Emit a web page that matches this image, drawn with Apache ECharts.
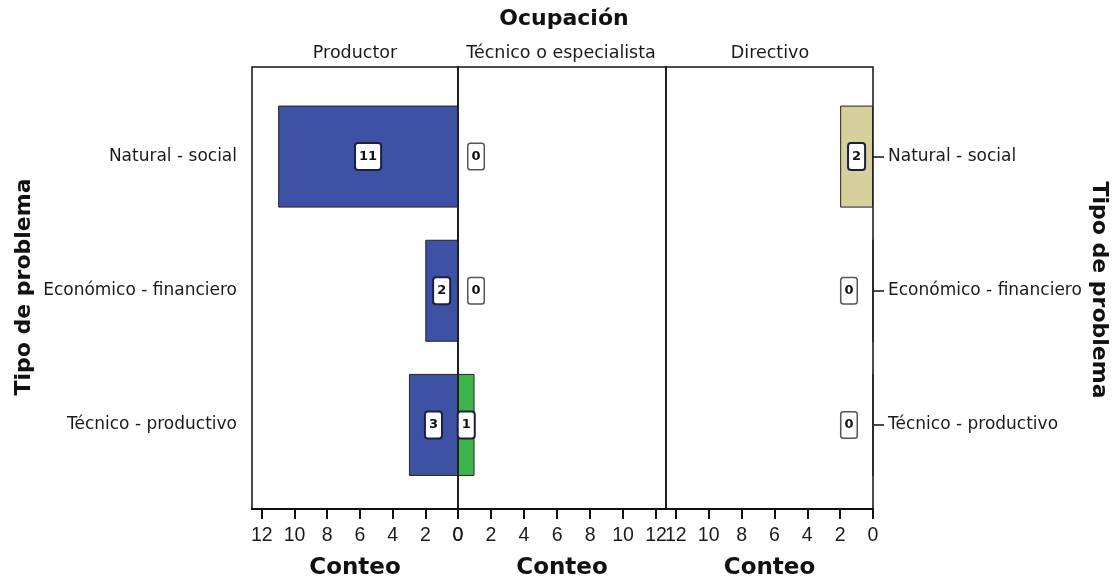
<!DOCTYPE html>
<html><head><meta charset="utf-8">
<script src="https://cdn.jsdelivr.net/npm/echarts@6/dist/echarts.min.js"></script>
<style>html,body{margin:0;padding:0;background:#fff}#c{width:1117px;height:585px}</style>
</head><body><div id="c"></div>
<script>
const categories = ['Natural - social', 'Económico - financiero', 'Técnico - productivo'];
const panelNames = ['Productor', 'Técnico o especialista', 'Directivo'];
const productor = [11, 2, 3];
const tecnico = [0, 0, 1];
const directivo = [2, 0, 0];
const tickValues = [0, 2, 4, 6, 8, 10, 12];
const axisMax = 12.6;

const FONT = '"DejaVu Sans", "Liberation Sans", Arial, sans-serif';
const FONT2 = '"Liberation Sans", Arial, sans-serif';
const frames = [{left: 252, width: 206}, {left: 458, width: 208}, {left: 666, width: 207}];
const frameTop = 67, frameHeight = 447;
const innerTop = 89.5, innerHeight = 402.5;
const inverse = [true, false, true];
const colors = ['#3d52a5', '#3db54a', '#d6d09c'];
const values = [productor, tecnico, directivo];

const grid = [];
const xAxis = [];
const yAxis = [];
frames.forEach((f, i) => {
  grid.push({left: f.left, width: f.width, top: frameTop, height: frameHeight, show: true,
    borderColor: '#111', borderWidth: 1.5, backgroundColor: 'transparent'});
  xAxis.push({gridIndex: i, type: 'value', min: 0, max: axisMax, inverse: inverse[i],
    axisLine: {show: true, lineStyle: {color: '#111', width: 2}},
    axisTick: {show: true, length: 10, lineStyle: {color: '#111', width: 2}, customValues: tickValues},
    axisLabel: {customValues: tickValues, margin: 17, fontSize: 19.5, color: '#1a1a1a', fontFamily: FONT2},
    splitLine: {show: false},
    name: 'Conteo', nameLocation: 'middle', nameGap: 48,
    nameTextStyle: {fontSize: 23, fontWeight: 'bold', color: '#111', fontFamily: FONT}});
  yAxis.push({gridIndex: i, type: 'value', show: false});
});
frames.forEach((f, i) => {
  grid.push({left: f.left, width: f.width, top: innerTop, height: innerHeight});
  xAxis.push({gridIndex: 3 + i, type: 'value', min: 0, max: axisMax, inverse: inverse[i], show: false});
  const showCat = i !== 1;
  yAxis.push({gridIndex: 3 + i, type: 'category', data: categories, inverse: true,
    position: i === 2 ? 'right' : 'left', show: showCat,
    axisLine: {show: false},
    axisTick: {show: true, alignWithLabel: true, length: 11, lineStyle: {color: '#111', width: 1.5}},
    axisLabel: {margin: 15, fontSize: 17, color: '#1a1a1a', fontFamily: FONT}});
});

const baseLabel = {show: true, position: 'inside', fontSize: 13, fontWeight: 'bold', color: '#111',
  fontFamily: FONT, backgroundColor: '#fff', borderColor: '#1c2040', borderWidth: 2,
  borderRadius: 2, padding: [5, 3], lineHeight: 15};

const series = values.map((arr, i) => ({
  type: 'bar', xAxisIndex: 3 + i, yAxisIndex: 3 + i, barWidth: 102,
  itemStyle: {color: colors[i], borderColor: '#222', borderWidth: 1},
  label: baseLabel,
  data: arr.map(v => v === 0 ? {value: v, label: {position: i === 2 ? 'left' : 'right',
    distance: i === 2 ? 16 : 10, borderColor: '#555', borderWidth: 1.5}} : v)
}));

const chart = echarts.init(document.getElementById('c'));
chart.setOption({
  animation: false,
  backgroundColor: '#fff',
  grid, xAxis, yAxis, series,
  graphic: [
    {type: 'text', x: 564, y: 19, style: {text: 'Ocupación', font: 'bold 22px ' + FONT, fill: '#111', textAlign: 'center', textVerticalAlign: 'middle'}},
    {type: 'text', x: 355, y: 53, style: {text: panelNames[0], font: '17.5px ' + FONT, fill: '#1a1a1a', textAlign: 'center', textVerticalAlign: 'middle'}},
    {type: 'text', x: 561, y: 53, style: {text: panelNames[1], font: '17.5px ' + FONT, fill: '#1a1a1a', textAlign: 'center', textVerticalAlign: 'middle'}},
    {type: 'text', x: 770, y: 53, style: {text: panelNames[2], font: '17.5px ' + FONT, fill: '#1a1a1a', textAlign: 'center', textVerticalAlign: 'middle'}},
    {type: 'text', x: 24, y: 287, rotation: Math.PI / 2, style: {text: 'Tipo de problema', font: 'bold 22px ' + FONT, fill: '#111', textAlign: 'center', textVerticalAlign: 'middle'}},
    {type: 'text', x: 1099, y: 290, rotation: -Math.PI / 2, style: {text: 'Tipo de problema', font: 'bold 22px ' + FONT, fill: '#111', textAlign: 'center', textVerticalAlign: 'middle'}}
  ]
});
</script></body></html>
